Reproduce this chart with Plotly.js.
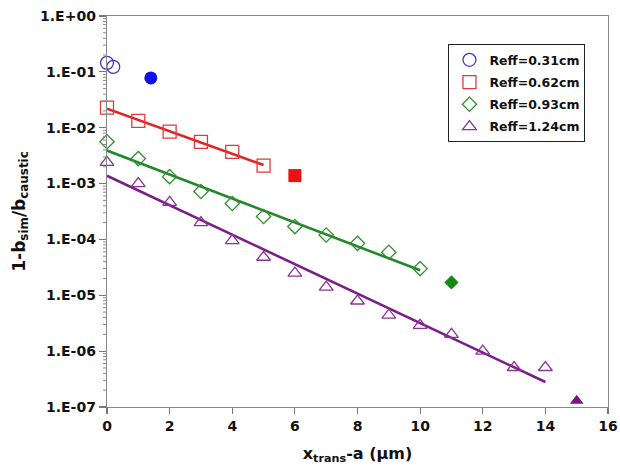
<!DOCTYPE html>
<html>
<head>
<meta charset="utf-8">
<script src="https://cdn.plot.ly/plotly-3.0.1.min.js"></script>
<style>
  html, body { margin: 0; padding: 0; background: #ffffff; }
  #chart { width: 620px; height: 470px; }
</style>
</head>
<body>
<div id="chart"></div>
<script>
// Simulated points for each effective radius (open markers)
const xR031 = [0, 0.2];
const yR031 = [0.145, 0.123];
const xR062 = [0, 1, 2, 3, 4, 5];
const yR062 = [0.0228, 0.0133, 0.0085, 0.0056, 0.0037, 0.0021];
const xR093 = [0, 1, 2, 3, 4, 5, 6, 7, 8, 9, 10];
const yR093 = [0.0056, 0.0028, 0.00133, 0.00072, 0.00044, 0.000257, 0.00017, 0.00012, 8.5e-5, 5.9e-5, 3.0e-5];
const xR124 = [0, 1, 2, 3, 4, 5, 6, 7, 8, 9, 10, 11, 12, 13, 14];
const yR124 = [0.0024, 0.001, 0.00046, 0.0002, 9.5e-5, 4.8e-5, 2.5e-5, 1.4e-5, 7.9e-6, 4.4e-6, 2.9e-6, 2.0e-6, 1.0e-6, 5.1e-7, 5.1e-7];

// Last point of each series (filled markers)
const xEnd = [1.4, 6, 11, 15];
const yEnd = [0.078, 0.00139, 1.7e-5, 1.3e-7];

// Exponential fits (end points)
const xFit062 = [0, 5];
const yFit062 = [0.0219, 0.00215];
const xFit093 = [0, 10];
const yFit093 = [0.0039, 2.8e-5];
const xFit124 = [0, 14];
const yFit124 = [0.00138, 2.8e-7];

const seriesNames = ['Reff=0.31cm', 'Reff=0.62cm', 'Reff=0.93cm', 'Reff=1.24cm'];

const yTickVals = [1, 1e-1, 1e-2, 1e-3, 1e-4, 1e-5, 1e-6, 1e-7];
const yTickText = ['1.E+00', '1.E-01', '1.E-02', '1.E-03', '1.E-04', '1.E-05', '1.E-06', '1.E-07'];

// minor log ticks 2..9 within each decade
const yMinorVals = [];
for (let e = -7; e < 0; e++) {
  for (let m = 2; m <= 9; m++) yMinorVals.push(m * Math.pow(10, e));
}

const FONT = 'DejaVu Sans, Arial, sans-serif';

const openColors = ['#3a3ac4', '#dd3c3c', '#2f8f2f', '#8a3596'];
const fillColors = ['#1010e8', '#ee1111', '#138a13', '#7a1484'];
const lineColors = ['#e42323', '#22882a', '#7a1f88'];
const symbols = ['circle', 'square', 'diamond', 'triangle-up'];
const sizes = [13, 13, 11, 12];

const openX = [xR031, xR062, xR093, xR124];
const openY = [yR031, yR062, yR093, yR124];

const traces = [];

// fitted lines first so markers sit on top
[[xFit062, yFit062], [xFit093, yFit093], [xFit124, yFit124]].forEach((f, i) => {
  traces.push({
    x: f[0], y: f[1], type: 'scatter', mode: 'lines',
    line: { color: lineColors[i], width: 2.6 },
    showlegend: false, hoverinfo: 'skip'
  });
});

openX.forEach((xs, i) => {
  traces.push({
    x: xs, y: openY[i], type: 'scatter', mode: 'markers',
    name: seriesNames[i], legendgroup: 'g' + i,
    cliponaxis: false,
    marker: {
      symbol: symbols[i] + '-open', size: sizes[i],
      color: openColors[i], line: { color: openColors[i], width: 1.3 }
    }
  });
});

xEnd.forEach((xv, i) => {
  traces.push({
    x: [xv], y: [yEnd[i]], type: 'scatter', mode: 'markers',
    showlegend: false, cliponaxis: false,
    marker: { symbol: symbols[i], size: sizes[i], color: fillColors[i], line: { width: 0 } }
  });
});

// short outside tick marks for the minor log divisions
const PLOT_W = 620 - 107 - 12;
const minorTickShapes = yMinorVals.map(v => ({
  type: 'line', layer: 'above',
  xref: 'paper', yref: 'y',
  x0: -4 / PLOT_W, x1: 0, y0: v, y1: v,
  line: { color: '#888888', width: 1 }
}));

const layout = {
  width: 620, height: 470,
  margin: { l: 107, r: 12, t: 16, b: 63 },
  paper_bgcolor: '#ffffff', plot_bgcolor: '#ffffff',
  font: { family: FONT, color: '#111111' },
  showlegend: true,
  legend: {
    x: 0.955, xanchor: 'right', y: 0.928, yanchor: 'top',
    bgcolor: '#ffffff', bordercolor: '#222222', borderwidth: 1,
    font: { family: FONT, size: 12.5, color: '#111111', weight: 'bold' },
    tracegroupgap: 3
  },
  shapes: minorTickShapes,
  xaxis: {
    range: [0, 16], tick0: 0, dtick: 2,
    ticks: 'outside', ticklen: 6, tickwidth: 1.2, tickcolor: '#777777',
    showline: true, linecolor: '#888888', linewidth: 1.3, mirror: true,
    showgrid: false, zeroline: false,
    tickfont: { family: FONT, size: 14, color: '#111111', weight: 'bold' },
    title: { text: '<b>x<sub>trans</sub>-a (µm)</b>', font: { family: FONT, size: 16, color: '#111111' }, standoff: 14 }
  },
  yaxis: {
    type: 'log', range: [-7, 0],
    tickmode: 'array', tickvals: yTickVals, ticktext: yTickText,
    ticks: 'outside', ticklen: 7, tickwidth: 1.2, tickcolor: '#777777',
    showline: true, linecolor: '#888888', linewidth: 1.3, mirror: true,
    showgrid: false, zeroline: false,
    tickfont: { family: FONT, size: 14, color: '#111111', weight: 'bold' },
    title: { text: '<b>1-b<sub>sim</sub>/b<sub>caustic</sub></b>', font: { family: FONT, size: 17, color: '#111111' }, standoff: 10 }
  }
};

Plotly.newPlot('chart', traces, layout, { displayModeBar: false, staticPlot: true });
</script>
</body>
</html>
